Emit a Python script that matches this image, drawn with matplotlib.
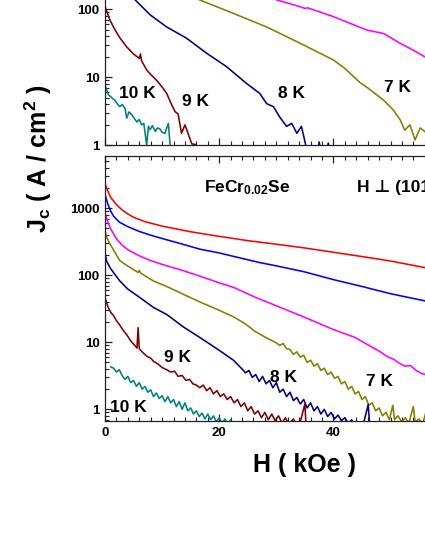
import matplotlib
matplotlib.use("Agg")
import matplotlib.pyplot as plt
from matplotlib.ticker import LogLocator, NullFormatter, FixedLocator, MultipleLocator

plt.rcParams['font.family'] = ['Liberation Sans', 'DejaVu Sans']
plt.rcParams['font.weight'] = 'bold'
plt.rcParams['mathtext.fontset'] = 'custom'
plt.rcParams['mathtext.rm'] = 'Liberation Sans:bold'
plt.rcParams['mathtext.it'] = 'Liberation Sans:bold'
plt.rcParams['mathtext.bf'] = 'Liberation Sans:bold'
plt.rcParams['mathtext.default'] = 'rm'

# ---------------- data: top panel ----------------
top_teal_H = [0, 0.3, 0.6, 1.0, 1.4, 1.75, 2.2, 2.6, 3.0, 3.5, 3.8, 4.2, 4.7, 5.1, 5.6, 6.0, 6.4, 6.8,
              7.3, 7.6, 7.9, 8.3, 8.8, 9.2, 9.6, 10.0, 10.5, 10.8, 11.1, 11.3, 11.5]
top_teal_J = [7.7, 6.5, 5.5, 5.2, 4.8, 4.6, 4.0, 3.7, 4.0, 3.5, 2.5, 3.1, 2.8, 2.5, 2.2, 2.4, 2.0, 2.1,
              1.0, 1.9, 1.7, 1.95, 1.6, 1.8, 1.75, 1.55, 1.5, 1.8, 2.1, 1.3, 0.8]

top_maroon_H = [0, 0.88, 1.75, 2.6, 3.8, 5.0, 6.0, 6.2, 6.4, 7.3, 8.0, 9.0, 10.0, 10.8, 11.7, 12.3,
                12.8, 13.4, 14.0, 14.6, 15.2, 15.8, 16.2]
top_maroon_J = [110, 69, 50, 38, 28, 22, 19, 22, 17.5, 12.8, 11, 9.1, 7.2, 5.8, 3.9, 3.1,
                2.9, 1.5, 2.0, 1.45, 1.05, 1.03, 0.8]

top_navy_H = [4.5, 5.3, 7.9, 10.8, 14.3, 17.8, 21.3, 24.8, 27.1, 28.3, 29.5, 30.6, 31.8, 32.7, 33.6,
              34.4, 35.0, 35.4, 36.5, 37.3, 37.5, 37.8, 38.8, 39.1, 39.4, 40.5]
top_navy_J = [165, 137, 83, 55, 37.5, 22.6, 14.3, 8.1, 5.8, 4.1, 3.7, 2.6, 1.9, 2.1, 1.5,
              1.9, 1.15, 0.8, 0.7, 0.8, 1.12, 0.8, 0.8, 1.08, 0.8, 0.7]

top_olive_H = [15.5, 16.6, 22.5, 28.3, 34.2, 40.0, 42.0, 44.7, 46.0, 48.8, 50.5, 51.7, 52.5, 53.4,
               54.3, 55.2, 56.0, 57.0]
top_olive_J = [160, 137, 87, 55, 31.6, 18, 13.5, 8.3, 7.0, 4.6, 3.3, 2.36, 1.67, 2.0,
               1.2, 1.8, 1.6, 1.3]

top_magenta_H = [29.0, 30.1, 34.2, 35.0, 35.5, 40.0, 45.8, 48.8, 51.7, 54.0, 56.0, 57.0]
top_magenta_J = [155, 137, 109, 103, 105, 78, 49.7, 44, 31.6, 25, 20, 19]

# ---------------- data: bottom panel ----------------
bot_red_H = [0, 0.5, 1, 2, 3, 4, 5, 7, 10, 15, 20, 25, 30, 35, 40, 45, 50, 56, 58]
bot_red_J = [2300, 1800, 1450, 1130, 940, 820, 730, 630, 540, 445, 380, 328, 290, 255, 220, 190, 163, 130, 122]

bot_blue_H = [0, 0.5, 1, 1.5, 2.5, 4, 6, 8, 10.8, 13, 16.6, 20, 22.4, 27, 30, 35, 40, 45, 50, 56, 58]
bot_blue_J = [1600, 1150, 900, 760, 620, 530, 450, 395, 338, 300, 245, 215, 192, 155, 138, 112, 86, 68, 53, 41.5, 38]

bot_magenta_H = [0, 0.5, 1, 2, 3, 4, 6, 8, 10, 13.7, 16.6, 19.6, 22.5, 26.3, 30, 35, 40, 43.8, 46,
                 48, 49.6, 50.5, 51.5, 52.5, 53.5, 54.5, 55.5, 57]
bot_magenta_J = [850, 620, 490, 350, 280, 240, 195, 165, 145, 117, 97, 79, 66, 47, 35, 23.5, 15.5, 11.8, 9.2,
                 7.4, 6.0, 5.6, 4.9, 4.4, 4.5, 3.8, 3.4, 3.2]

bot_olive_H = [0, 0.3, 0.9, 2.6, 3.8, 5.8, 6.0, 6.2, 8.5, 10.8, 13.7, 16.6, 20, 22.5, 24.5, 26.3, 28,
               30, 30.6, 31.2, 31.8, 32.4, 33, 33.6, 34.2, 34.8, 35.4, 36, 36.6, 37.2, 37.8, 38.4, 39,
               39.6, 40.2, 40.8, 41.4, 42, 42.6, 43.2, 43.8, 44.4, 45, 45.6, 46.2, 46.8, 47.4, 48, 48.6,
               49.2, 49.8, 50.4, 50.7, 51.3, 52, 52.6, 53.2, 54, 54.3, 55, 55.6, 56.2, 57]
bot_olive_J = [460, 370, 290, 165, 140, 110, 118, 108, 82, 68, 52, 40, 30, 24, 19, 14.5, 12,
               9.8, 9.0, 9.6, 8.0, 7.8, 6.6, 7.2, 6.0, 6.4, 5.0, 5.4, 4.4, 4.8, 3.8, 4.1, 3.3,
               3.6, 2.9, 3.1, 2.4, 2.6, 2.0, 2.2, 1.7, 1.85, 1.4, 1.55, 1.15, 1.25, 0.95, 1.05, 0.8,
               0.9, 0.7, 1.15, 0.7, 0.8, 0.65, 0.75, 0.62, 1.1, 0.65, 0.72, 0.6, 0.9, 0.6]

bot_navy_H = [0, 0.3, 1, 2.6, 4, 6.1, 8.5, 10.8, 13.7, 16.6, 20, 22.5, 24, 24.6, 25.2, 25.8, 26.4, 27,
              27.6, 28.2, 28.8, 29.4, 30, 30.6, 31.2, 31.8, 32.4, 33, 33.6, 34.2, 34.8, 35.4, 36, 36.6,
              37.2, 37.8, 38.4, 39, 39.6, 40.2, 40.8, 41.4, 42, 42.6, 43.2, 44, 45, 46.1, 46.4, 47]
bot_navy_J = [210, 160, 125, 82, 62, 46.5, 33, 26, 17, 11.8, 7.6, 5.4, 4.0, 3.5, 3.8, 3.0, 3.3, 2.6,
              3.1, 2.4, 2.7, 2.1, 2.5, 1.8, 2.0, 1.55, 1.8, 1.35, 1.5, 1.2, 1.4, 1.05, 1.25, 0.95,
              1.1, 0.85, 1.0, 0.78, 0.9, 0.72, 0.82, 0.68, 0.75, 0.62, 0.7, 0.55, 0.5, 1.18, 0.5, 0.45]

bot_maroon_H = [0, 0.5, 1, 1.5, 2, 2.6, 3.2, 3.8, 4.5, 5.2, 5.6, 5.8, 6.0, 6.5, 7.3, 8, 8.5, 9.2, 10,
                10.8, 11.5, 12.2, 12.8, 13.5, 14.2, 14.8, 15.4, 16, 16.6, 17.2, 17.8, 18.4, 19, 19.6,
                20.2, 20.8, 21.4, 22, 22.6, 23.2, 23.8, 24.4, 25, 25.6, 26.2, 26.8, 27.4, 28, 28.6,
                29.2, 29.8, 30.4, 31, 31.6, 32.2, 33, 33.6, 34.3, 35, 35.2, 36]
bot_maroon_J = [46, 34, 28, 25, 21, 18, 15, 13, 10.5, 9.0, 8.2, 16.5, 8.0, 7.2, 6.2, 5.8, 5.2, 4.8, 4.2,
                3.9, 3.6, 3.7, 3.1, 3.2, 2.7, 2.8, 2.4, 2.3, 2.1, 2.3, 1.9, 2.1, 1.7, 1.9,
                1.55, 1.7, 1.4, 1.55, 1.25, 1.4, 1.1, 1.25, 0.95, 1.1, 0.85, 0.95, 0.75, 0.9, 0.7,
                0.85, 0.68, 0.8, 0.62, 0.75, 0.6, 0.72, 0.58, 0.7, 1.2, 0.6, 0.5]

bot_teal_H = [1.0, 1.5, 2.0, 2.5, 3.0, 3.5, 4.0, 4.5, 5.0, 5.5, 6.0, 6.5, 7.0, 7.5, 8.0, 8.5, 9.0, 9.5,
              10.0, 10.5, 11.0, 11.5, 12.0, 12.5, 13.0, 13.5, 14.0, 14.5, 15.0, 15.5, 16.0, 16.5, 17.0,
              17.5, 18.0, 18.5, 19.0, 19.5, 20.0, 20.5, 21.0, 21.5, 22.0, 22.5]
bot_teal_J = [4.3, 4.1, 3.6, 3.9, 3.2, 2.8, 3.1, 2.5, 2.7, 2.2, 2.5, 2.0, 2.2, 1.8, 1.95, 1.55, 1.75, 1.45,
              1.6, 1.3, 1.55, 1.25, 1.4, 1.1, 1.3, 1.0, 1.25, 0.95, 1.05, 0.85, 0.95, 0.78, 0.88,
              0.72, 0.85, 0.7, 0.8, 0.65, 0.75, 0.62, 0.72, 0.6, 0.7, 0.55]

x_ticks = [0, 20, 40]
top_yticks = [1, 10, 100]
bot_yticks = [1, 10, 100, 1000]
temp_labels_top = ['10 K', '9 K', '8 K', '7 K']
temp_labels_bot = ['10 K', '9 K', '8 K', '7 K']

C_RED, C_BLUE, C_MAG, C_OLIVE, C_NAVY, C_MAROON, C_TEAL = (
    '#FF0000', '#0000FF', '#FF00FF', '#808000', '#000080', '#800000', '#008080')

W, H = 425, 550
fig = plt.figure(figsize=(W / 100, H / 100), dpi=100)

px_per_kOe = 5.71
ax_left = 105
ax_w = 70 * px_per_kOe


def frac_box(x0, y_top, w, h):
    return [x0 / W, 1 - (y_top + h) / H, w / W, h / H]


# top panel: 1..10000, 68 px per decade, bottom at y=145.3
dec_top = 68.0
top_h = 4 * dec_top
ax1 = fig.add_axes(frac_box(ax_left, 145.3 - top_h, ax_w, top_h))
# bottom panel: 0.67..6000 from y=156 to 421
ax2 = fig.add_axes(frac_box(ax_left, 156, ax_w, 265))

lw = 1.15
ax1.plot(top_magenta_H, top_magenta_J, color=C_MAG, lw=lw)
ax1.plot(top_olive_H, top_olive_J, color=C_OLIVE, lw=lw)
ax1.plot(top_navy_H, top_navy_J, color=C_NAVY, lw=lw)
ax1.plot(top_maroon_H, top_maroon_J, color=C_MAROON, lw=lw)
ax1.plot(top_teal_H, top_teal_J, color=C_TEAL, lw=lw)

ax2.plot(bot_red_H, bot_red_J, color=C_RED, lw=lw)
ax2.plot(bot_blue_H, bot_blue_J, color=C_BLUE, lw=lw)
ax2.plot(bot_magenta_H, bot_magenta_J, color=C_MAG, lw=lw)
ax2.plot(bot_olive_H, bot_olive_J, color=C_OLIVE, lw=lw)
ax2.plot(bot_navy_H, bot_navy_J, color=C_NAVY, lw=lw)
ax2.plot(bot_maroon_H, bot_maroon_J, color=C_MAROON, lw=lw)
ax2.plot(bot_teal_H, bot_teal_J, color=C_TEAL, lw=lw)

ax1.set_ylim(1, 10000)
ax2.set_ylim(0.67, 6000)

for ax, yt in ((ax1, top_yticks), (ax2, bot_yticks)):
    ax.set_yscale('log')
    ax.set_xlim(0, 70)
    ax.xaxis.set_major_locator(FixedLocator(x_ticks + [60]))
    ax.xaxis.set_minor_locator(MultipleLocator(2))
    ax.yaxis.set_major_locator(FixedLocator(yt))
    ax.yaxis.set_minor_locator(LogLocator(base=10, subs=range(2, 10)))
    ax.yaxis.set_minor_formatter(NullFormatter())
    ax.set_yticklabels([str(v) for v in yt])
    ax.tick_params(which='both', direction='in', top=True, right=True, colors='#222222',
                   labelcolor='black', labelsize=9.5, pad=4)
    ax.tick_params(which='major', length=5, width=0.9)
    ax.tick_params(which='minor', length=2.8, width=0.8)
    for s in ax.spines.values():
        s.set_color('#222222')
        s.set_linewidth(0.9)
    for lab in ax.get_xticklabels() + ax.get_yticklabels():
        lab.set_fontweight('bold')

ax1.tick_params(labelbottom=False)
# label only ticks that fall inside the picture
ax2.set_xticklabels([str(v) for v in x_ticks] + [''])
for lab in ax2.get_xticklabels():
    lab.set_fontweight('bold')


def place(text, xpix, ypix, size=12.5, ha='center', **kw):
    fig.text(xpix / W, 1 - ypix / H, text, ha=ha, va='center', fontsize=size,
             fontweight='bold', **kw)


# temperature labels, top panel
for t, (xp, yp) in zip(temp_labels_top, [(137.5, 94), (195, 101), (292, 94), (397.5, 87)]):
    place(t, xp, yp)
# temperature labels, bottom panel
for t, (xp, yp) in zip(temp_labels_bot, [(128, 408), (177, 358), (283, 377), (379, 382)]):
    place(t, xp, yp)

place(r'FeCr$_{0.02}$Se', 204, 188, size=12.5, ha='left')
fig.text(357 / W, 1 - 187 / H, 'H \u22a5 (101)', ha='left', va='center', fontsize=12.5,
         fontweight='bold', family=['Liberation Sans', 'DejaVu Sans'])

fig.text(304.5 / W, 1 - 465 / H, 'H ( kOe )', ha='center', va='center', fontsize=18,
         fontweight='bold')
fig.text(38 / W, 1 - 159 / H, r'J$_{c}$ ( A / cm$^{2}$ )', ha='center', va='center',
         fontsize=18, fontweight='bold', rotation=90)

fig.savefig('out.png', dpi=100)
